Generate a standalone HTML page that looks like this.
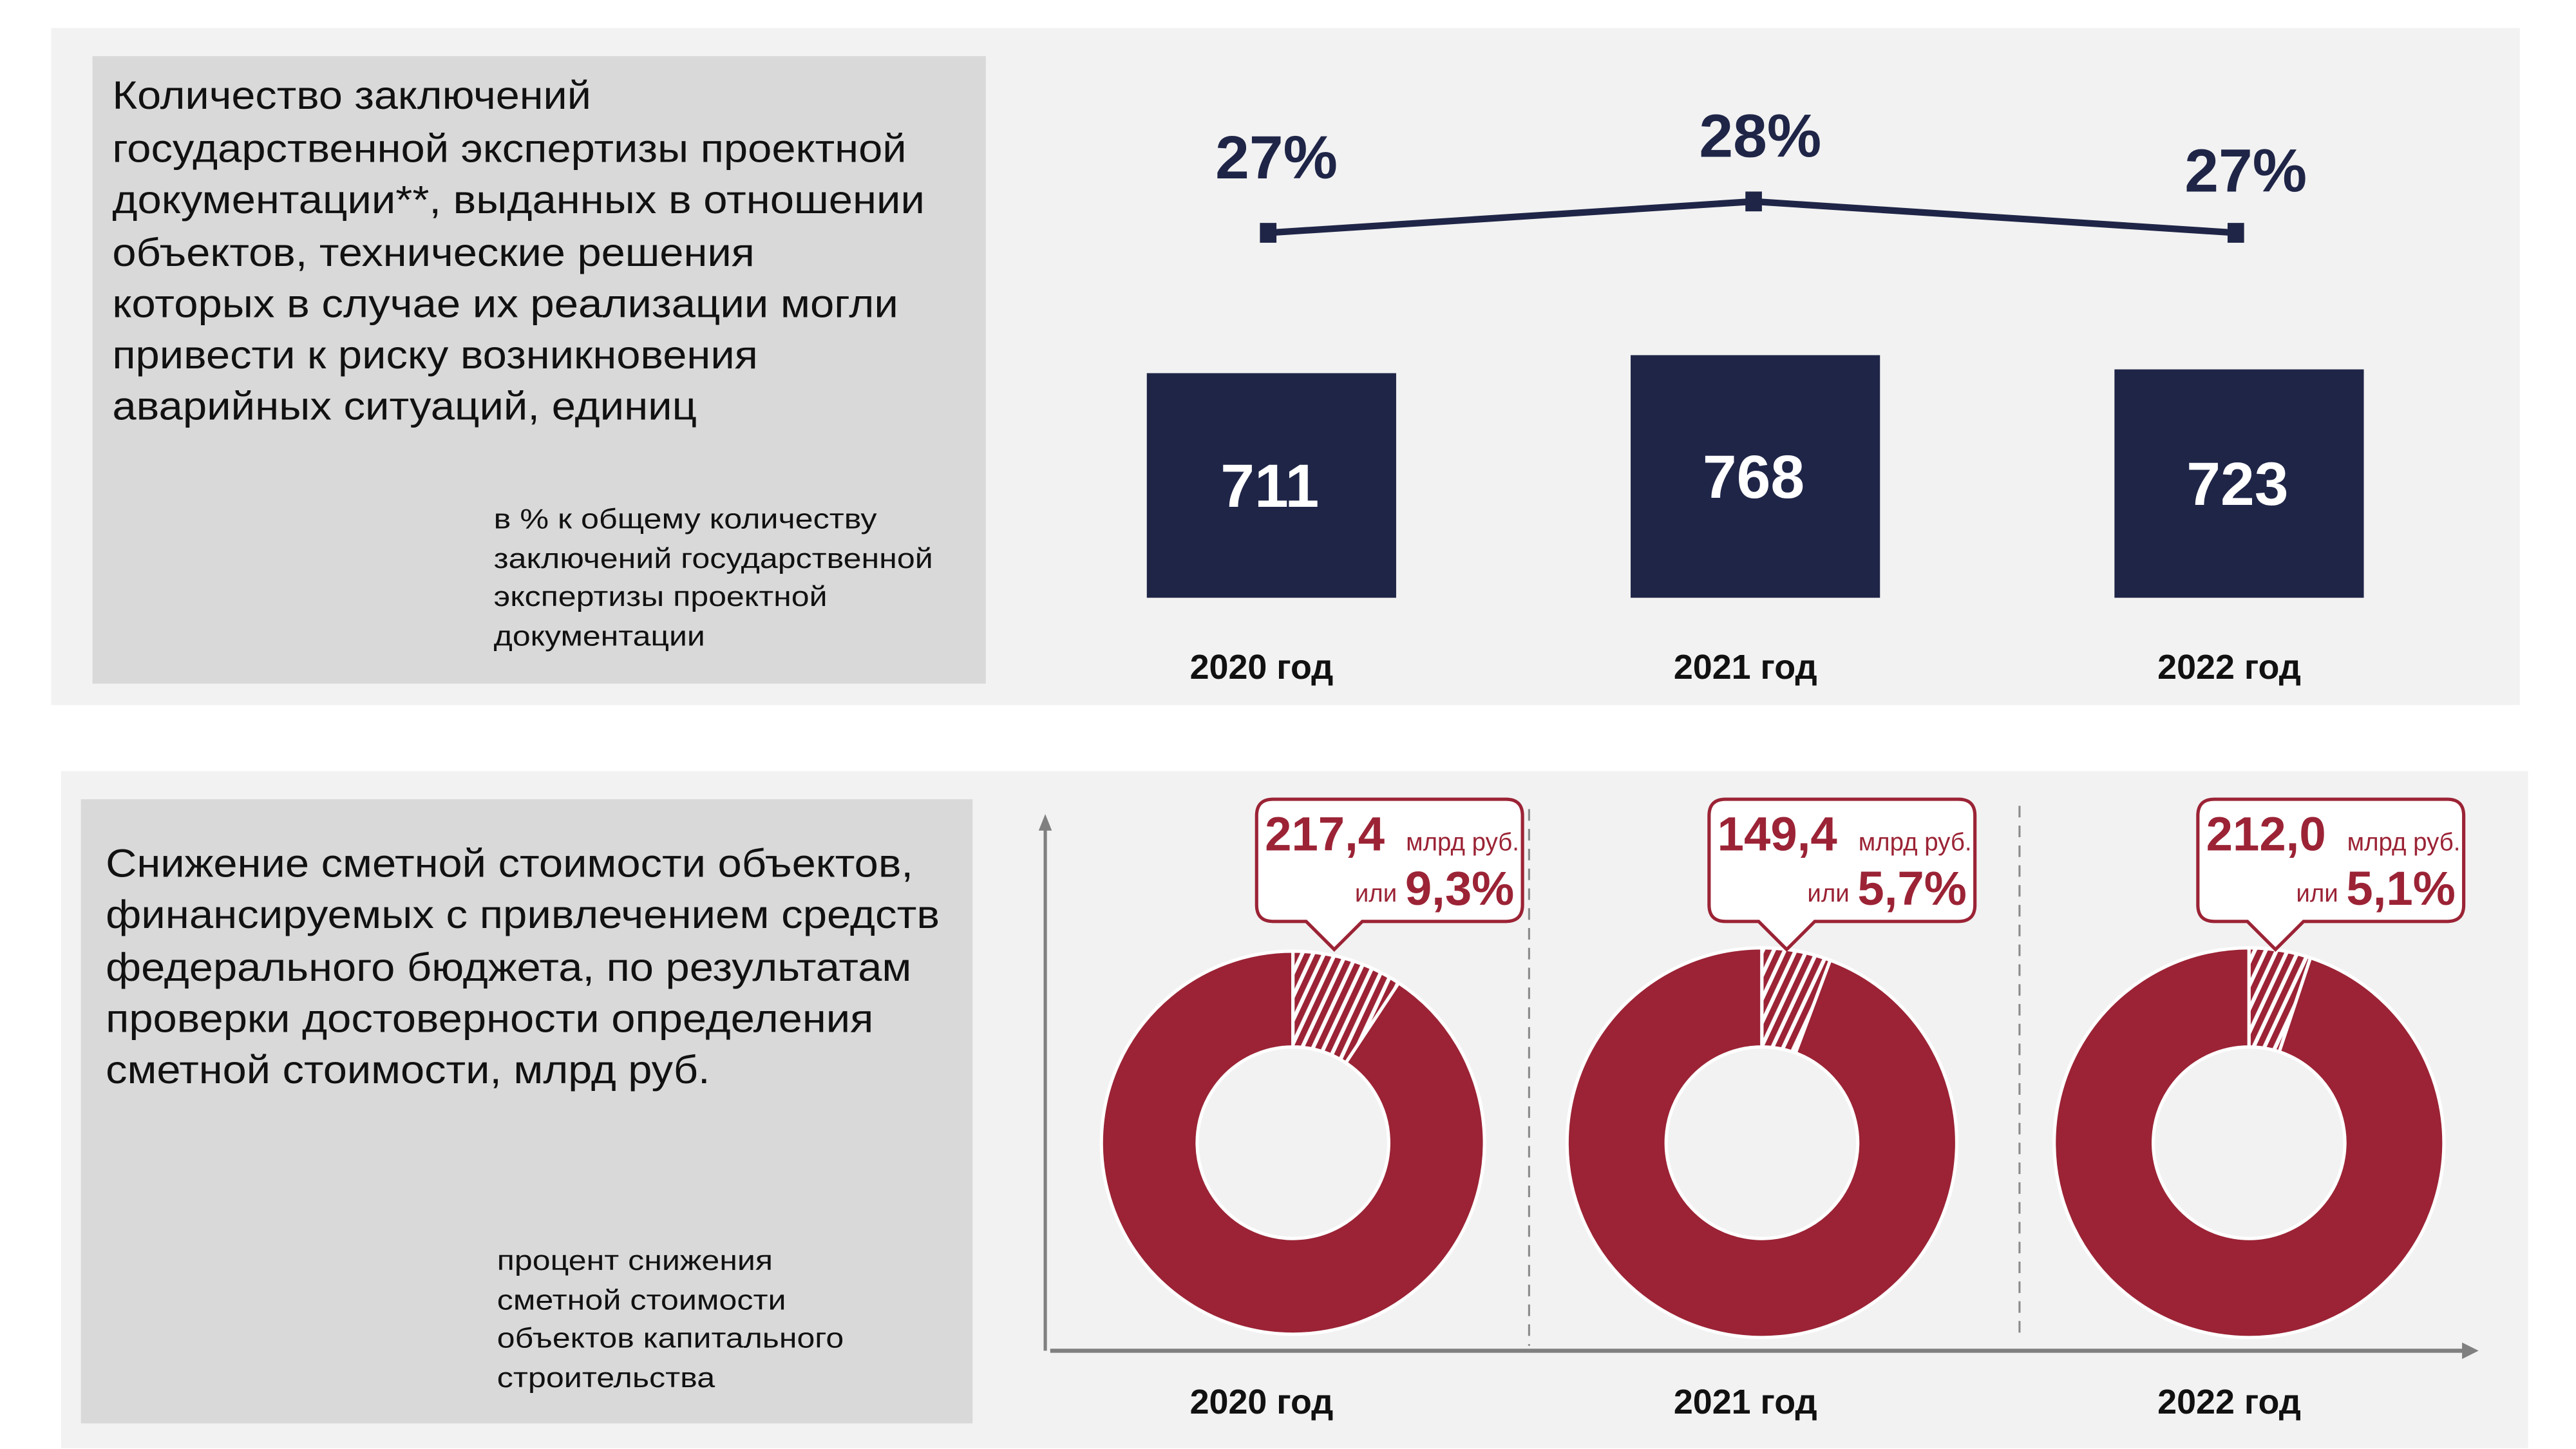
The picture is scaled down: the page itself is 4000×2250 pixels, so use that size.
<!DOCTYPE html>
<html><head><meta charset="utf-8">
<style>
html,body{margin:0;padding:0;background:#fff;}
svg{display:block;font-family:"Liberation Sans","Noto Sans CJK SC",sans-serif;}
</style></head>
<body>
<svg id="root" width="4000" height="2250" viewBox="0 0 1560 877.5" xmlns="http://www.w3.org/2000/svg">
<defs>
<pattern id="hatch" patternUnits="userSpaceOnUse" width="6" height="6" patternTransform="rotate(25)">
<rect width="6" height="6" fill="#ffffff"/>
<rect width="3.6" height="6" fill="#9b2335"/>
</pattern>
</defs>
<rect x="0" y="0" width="1560" height="877.5" fill="#ffffff"/>

<!-- TOP PANEL -->
<g>
<rect x="31" y="17" width="1495" height="410" fill="#f2f2f2"/>
<rect x="56" y="34" width="541" height="380" fill="#d9d9d9"/>
<g font-size="24" fill="#111">
<text x="68" y="66" textLength="290" lengthAdjust="spacingAndGlyphs">Количество заключений</text>
<text x="68" y="98" textLength="481" lengthAdjust="spacingAndGlyphs">государственной экспертизы проектной</text>
<text x="68" y="129" textLength="492" lengthAdjust="spacingAndGlyphs">документации**, выданных в отношении</text>
<text x="68" y="161" textLength="389" lengthAdjust="spacingAndGlyphs">объектов, технические решения</text>
<text x="68" y="192" textLength="476" lengthAdjust="spacingAndGlyphs">которых в случае их реализации могли</text>
<text x="68" y="223" textLength="391" lengthAdjust="spacingAndGlyphs">привести к риску возникновения</text>
<text x="68" y="254" textLength="354" lengthAdjust="spacingAndGlyphs">аварийных ситуаций, единиц</text>
</g>
<g font-size="17" fill="#111">
<text x="299" y="320" textLength="232" lengthAdjust="spacingAndGlyphs">в % к общему количеству</text>
<text x="299" y="344" textLength="266" lengthAdjust="spacingAndGlyphs">заключений государственной</text>
<text x="299" y="367" textLength="202" lengthAdjust="spacingAndGlyphs">экспертизы проектной</text>
<text x="299" y="391" textLength="128" lengthAdjust="spacingAndGlyphs">документации</text>
</g>
<g id="barChart"></g>
</g>

<!-- BOTTOM PANEL -->
<g>
<rect x="37" y="467" width="1494" height="410" fill="#f2f2f2"/>
<rect x="49" y="484" width="540" height="378" fill="#d9d9d9"/>
<g font-size="24" fill="#111">
<text x="64" y="531" textLength="489" lengthAdjust="spacingAndGlyphs">Снижение сметной стоимости объектов,</text>
<text x="64" y="562" textLength="505" lengthAdjust="spacingAndGlyphs">финансируемых с привлечением средств</text>
<text x="64" y="594" textLength="488" lengthAdjust="spacingAndGlyphs">федерального бюджета, по результатам</text>
<text x="64" y="625" textLength="465" lengthAdjust="spacingAndGlyphs">проверки достоверности определения</text>
<text x="64" y="656" textLength="366" lengthAdjust="spacingAndGlyphs">сметной стоимости, млрд руб.</text>
</g>
<g font-size="17" fill="#111">
<text x="301" y="769" textLength="167" lengthAdjust="spacingAndGlyphs">процент снижения</text>
<text x="301" y="793" textLength="175" lengthAdjust="spacingAndGlyphs">сметной стоимости</text>
<text x="301" y="816" textLength="210" lengthAdjust="spacingAndGlyphs">объектов капитального</text>
<text x="301" y="840" textLength="132" lengthAdjust="spacingAndGlyphs">строительства</text>
</g>
<g>
<line x1="633" y1="818" x2="633" y2="500" stroke="#808080" stroke-width="2"/>
<polygon points="633,493 629,503 637,503" fill="#808080"/>
<line x1="636" y1="818" x2="1493" y2="818" stroke="#808080" stroke-width="2.5"/>
<polygon points="1501,818 1491,813 1491,823" fill="#808080"/>
<line x1="926" y1="490" x2="926" y2="815" stroke="#8a8a8a" stroke-width="1.2" stroke-dasharray="7,5"/>
<line x1="1223" y1="488" x2="1223" y2="808" stroke="#8a8a8a" stroke-width="1.2" stroke-dasharray="7,5"/>
</g>
<g id="donuts"></g>
</g>
</svg>
<script>
// ---- top chart data ----
const years = ["2020 год", "2021 год", "2022 год"];
const counts = [711, 768, 723];
const shares = [27, 28, 27];
// ---- bottom chart data ----
const savings = ["217,4", "149,4", "212,0"];
const savingPct = [9.3, 5.7, 5.1];
const savingPctLabels = ["9,3%", "5,7%", "5,1%"];

const NS = "http://www.w3.org/2000/svg";
function mk(tag, attrs, parent) {
  const e = document.createElementNS(NS, tag);
  for (const k in attrs) e.setAttribute(k, attrs[k]);
  parent.appendChild(e);
  return e;
}
const navy = "#1f2547", red = "#9b2335";

// axis functions
const topCenters = [770, 1063, 1356];
function xBar(i) { return topCenters[i]; }
const barBase = 362, barScale = 0.1913;
function yBar(v) { return barBase - v * barScale; }
const lineX = [768, 1062, 1354];
function yLine(p) { return 141 - (p - 27) * 19; }

const bc = document.getElementById("barChart");
counts.forEach((v, i) => {
  const r = mk("rect", {x: xBar(i) - 75.5, y: yBar(v), width: 151, height: barBase - yBar(v), fill: navy}, bc);
  
  
  const t = mk("text", {x: xBar(i) - 1, y: (yBar(v) + barBase) / 2 + 13, "text-anchor": "middle", "font-size": "37", "font-weight": "bold", fill: "#fff"}, bc);
  t.textContent = v;
  
  
  const y = mk("text", {x: xBar(i) - 6, y: 411, "text-anchor": "middle", "font-size": "21", "font-weight": "bold", fill: "#111"}, bc);
  y.textContent = years[i];
  
  
});
const pts = shares.map((p, i) => lineX[i] + "," + yLine(p)).join(" ");
const pl = mk("polyline", {points: pts, fill: "none", stroke: navy, "stroke-width": "4"}, bc);


const labOff = [-33, -27, -25];
const labDx = [5, 4, 6];
shares.forEach((p, i) => {
  const m = mk("rect", {x: lineX[i] - 5, y: yLine(p) - 6, width: 10, height: 12, fill: navy}, bc);
  
  
  const t = mk("text", {x: lineX[i] + labDx[i], y: yLine(p) + labOff[i], "text-anchor": "middle", "font-size": "37", "font-weight": "bold", fill: navy}, bc);
  t.textContent = p + "%";
  
  
});

// donuts
const dg = document.getElementById("donuts");
const dCx = [783, 1067, 1362], dCy = 692, rOut = [116, 118, 118], rIn = 58;
const boxX = [761, 1035, 1331], boxW = 161, boxY = 484, boxH = 74, ptrX = [808, 1082, 1378];
function arc(cx, cy, ro, ri, a0, a1) {
  const p = (r, a) => [cx + r * Math.sin(a), cy - r * Math.cos(a)];
  const large = (a1 - a0) > Math.PI ? 1 : 0;
  const [x0, y0] = p(ro, a0), [x1, y1] = p(ro, a1), [x2, y2] = p(ri, a1), [x3, y3] = p(ri, a0);
  return `M${x0},${y0} A${ro},${ro} 0 ${large} 1 ${x1},${y1} L${x2},${y2} A${ri},${ri} 0 ${large} 0 ${x3},${y3} Z`;
}
savingPct.forEach((p, i) => {
  const a = p / 100 * 2 * Math.PI;
  const rest = mk("path", {d: arc(dCx[i], dCy, rOut[i], rIn, a, 2 * Math.PI - 0.0001), fill: red, stroke: "#fff", "stroke-width": "2"}, dg);
  
  
  const hs = mk("path", {d: arc(dCx[i], dCy, rOut[i], rIn, 0, a), fill: "url(#hatch)", stroke: "#fff", "stroke-width": "2"}, dg);
  
  

  const bx = boxX[i], px = ptrX[i], by2 = boxY + boxH;
  const d = `M${bx + 10},${boxY} H${bx + boxW - 10} Q${bx + boxW},${boxY} ${bx + boxW},${boxY + 10} V${by2 - 10} Q${bx + boxW},${by2} ${bx + boxW - 10},${by2} H${px + 17} L${px},${by2 + 17} L${px - 17},${by2} H${bx + 10} Q${bx},${by2} ${bx},${by2 - 10} V${boxY + 10} Q${bx},${boxY} ${bx + 10},${boxY} Z`;
  const cb = mk("path", {d: d, fill: "#fff", stroke: red, "stroke-width": "2"}, dg);
  
  
  const v = mk("text", {x: bx + 5, y: boxY + 31, "font-size": "29", "font-weight": "bold", fill: red}, dg);
  v.textContent = savings[i];
  
  
  const u = mk("text", {x: bx + boxW - 2, y: boxY + 31, "text-anchor": "end", "font-size": "15", fill: red}, dg);
  u.textContent = "млрд руб.";
  
  
  const pc = mk("text", {x: bx + boxW - 5, y: boxY + 64, "text-anchor": "end", "font-size": "29", "font-weight": "bold", fill: red}, dg);
  pc.textContent = savingPctLabels[i];
  
  
  const ili = mk("text", {x: bx + boxW - 76, y: boxY + 62, "text-anchor": "end", "font-size": "15", fill: red}, dg);
  ili.textContent = "или";
  
  

  const yl = mk("text", {x: xBar(i) - 6, y: 856, "text-anchor": "middle", "font-size": "21", "font-weight": "bold", fill: "#111"}, dg);
  yl.textContent = years[i];
  
  
});
</script>
</body></html>
